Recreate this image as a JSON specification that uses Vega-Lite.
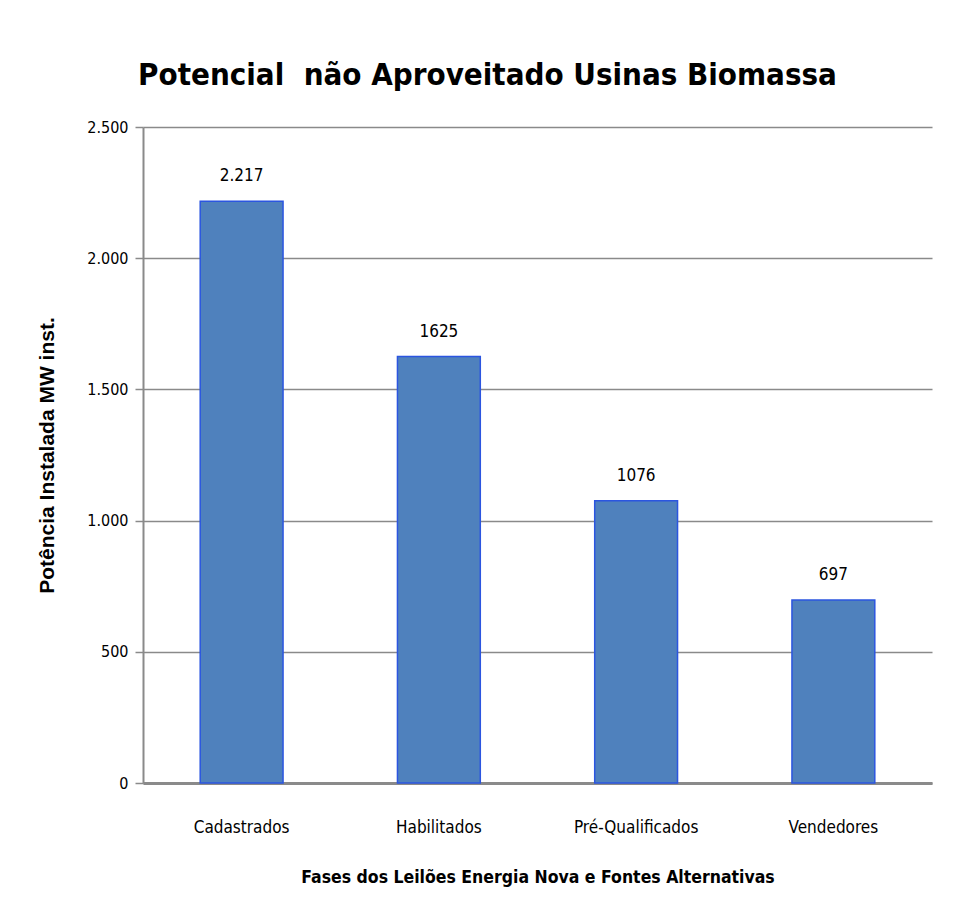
{
  "$schema": "https://vega.github.io/schema/vega-lite/v6.json",
  "width": 789,
  "height": 656,
  "autosize": {"type": "none"},
  "padding": {"left": 143, "top": 127, "right": 32, "bottom": 138},
  "background": "white",
  "title": {
    "text": "Potencial \u00a0não Aproveitado Usinas Biomassa",
    "font": "DejaVu Sans Condensed, sans-serif",
    "fontSize": 31,
    "fontWeight": "bold",
    "color": "black",
    "anchor": "middle",
    "dx": -50,
    "offset": 27
  },
  "data": {
    "values": [
      {"fase": "Cadastrados", "mw": 2217, "rotulo": "2.217"},
      {"fase": "Habilitados", "mw": 1625, "rotulo": "1625"},
      {"fase": "Pré-Qualificados", "mw": 1076, "rotulo": "1076"},
      {"fase": "Vendedores", "mw": 697, "rotulo": "697"}
    ]
  },
  "encoding": {
    "x": {
      "field": "fase",
      "type": "nominal",
      "sort": null,
      "scale": {"paddingInner": 0.58, "paddingOuter": 0.29},
      "axis": {
        "title": "Fases dos Leilões Energia Nova e Fontes Alternativas",
        "titleFont": "DejaVu Sans Condensed, sans-serif",
        "titleFontSize": 17.5,
        "titleFontWeight": "bold",
        "titleColor": "black",
        "titlePadding": 33,
        "labelAngle": 0,
        "labelFont": "DejaVu Sans Condensed, sans-serif",
        "labelFontSize": 17,
        "labelColor": "black",
        "labelPadding": 36,
        "ticks": false,
        "domainColor": "#8a8a8a",
        "domainWidth": 3,
        "grid": false
      }
    },
    "y": {
      "field": "mw",
      "type": "quantitative",
      "scale": {"domain": [0, 2500]},
      "axis": {
        "values": [0, 500, 1000, 1500, 2000, 2500],
        "labelExpr": "replace(format(datum.value, ','), ',', '.')",
        "title": "Potência Instalada MW inst.",
        "titleFont": "Liberation Sans, Arial, sans-serif",
        "titleFontSize": 21,
        "titleFontWeight": "bold",
        "titleColor": "black",
        "titleX": -96,
        "titleY": 328,
        "titleAnchor": "middle",
        "titleBaseline": "middle",
        "labelFont": "DejaVu Sans Condensed, sans-serif",
        "labelFontSize": 16,
        "labelColor": "black",
        "labelPadding": 7,
        "tickSize": 8,
        "tickColor": "#8a8a8a",
        "tickWidth": 1.5,
        "domainColor": "#8a8a8a",
        "domainWidth": 2,
        "grid": true,
        "gridColor": "#8a8a8a",
        "gridWidth": 1.5
      }
    }
  },
  "layer": [
    {
      "mark": {"type": "bar", "color": "#4f81bd", "stroke": "#2b55e0", "strokeWidth": 1.5}
    },
    {
      "mark": {
        "type": "text",
        "baseline": "bottom",
        "dy": -16,
        "font": "DejaVu Sans Condensed, sans-serif",
        "fontSize": 17,
        "color": "black"
      },
      "encoding": {"text": {"field": "rotulo"}}
    }
  ],
  "config": {"view": {"stroke": null}}
}
